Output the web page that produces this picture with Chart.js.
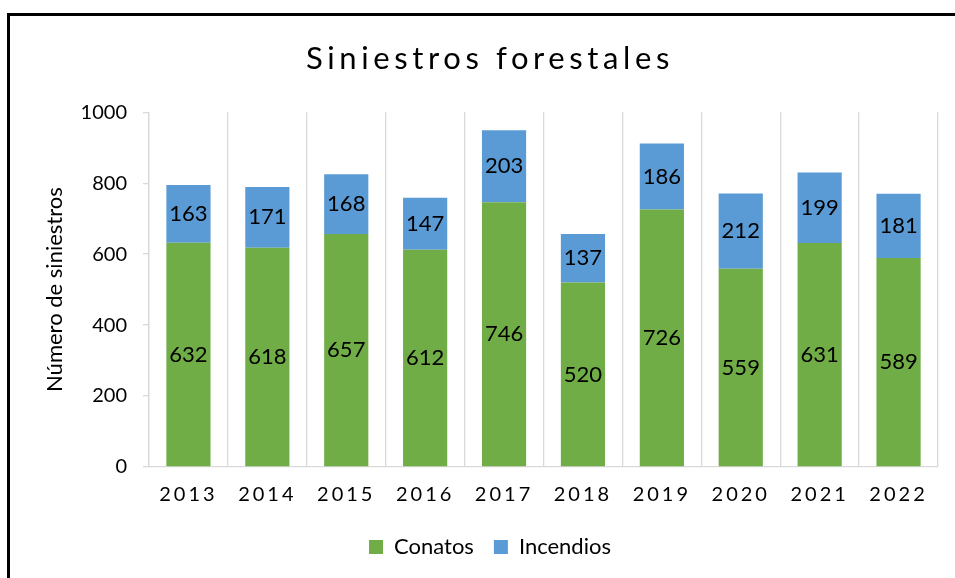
<!DOCTYPE html>
<html>
<head>
<meta charset="utf-8">
<script src="https://cdn.jsdelivr.net/npm/chart.js@4"></script>
<style>
  body { margin: 0; background: #fff; }
  #wrap { position: relative; width: 955px; height: 578px; overflow: hidden; }
  #frame { position: absolute; left: 7px; top: 13px; width: 1000px; height: 1000px;
           border-left: 3px solid #000; border-top: 3px solid #000; pointer-events: none; }
</style>
</head>
<body>
<div id="wrap">
  <canvas id="bar-chart" width="955" height="578"></canvas>
  <div id="frame"></div>
</div>
<script>
var years = ["2013", "2014", "2015", "2016", "2017", "2018", "2019", "2020", "2021", "2022"];
var conatos = [632, 618, 657, 612, 746, 520, 726, 559, 631, 589];
var incendios = [163, 171, 168, 147, 203, 137, 186, 212, 199, 181];
var yTicks = [0, 200, 400, 600, 800, 1000];

Chart.defaults.font.family = "Lato, 'Open Sans', sans-serif";
Chart.defaults.color = "#000";

// spaced-out letters for title and year labels
var spacing = {
    id: 'spacing',
    beforeDraw: function (chart) {
        var x = chart.scales.x;
        if (x && !x._spaced) {
            var orig = x.drawLabels;
            x.drawLabels = function (area) {
                var c = this.ctx; c.save(); c.letterSpacing = '3px';
                orig.call(this, area); c.restore();
            };
            x._spaced = true;
        }
        var t = chart.titleBlock;
        if (t && !t._spaced) {
            var origT = t.draw;
            t.draw = function () {
                var c = this.ctx; c.save(); c.letterSpacing = '4.6px';
                origT.call(this); c.restore();
            };
            t._spaced = true;
        }
    }
};

// value labels centred in each segment
var valueLabels = {
    id: 'valueLabels',
    afterDatasetsDraw: function (chart) {
        var ctx = chart.ctx;
        ctx.save();
        ctx.font = "22px Lato, sans-serif";
        ctx.fillStyle = "#000";
        ctx.textAlign = "center";
        ctx.textBaseline = "middle";
        chart.data.datasets.forEach(function (ds, i) {
            chart.getDatasetMeta(i).data.forEach(function (bar, j) {
                ctx.fillText(ds.data[j], bar.x, (bar.y + bar.base) / 2);
            });
        });
        ctx.restore();
    }
};

new Chart(document.getElementById("bar-chart"), {
    type: 'bar',
    data: {
        labels: years,
        datasets: [
            { label: "Conatos", data: conatos, backgroundColor: "#70AD47",
              barPercentage: 0.56, categoryPercentage: 1 },
            { label: "Incendios", data: incendios, backgroundColor: "#5B9BD5",
              barPercentage: 0.56, categoryPercentage: 1 }
        ]
    },
    options: {
        responsive: false,
        animation: false,
        layout: { padding: { left: 42, right: 17, top: 0, bottom: 10 } },
        plugins: {
            title: {
                display: true,
                text: 'Siniestros forestales',
                font: { size: 31, weight: 'normal' },
                padding: { top: 40, bottom: 35 }
            },
            legend: {
                position: 'bottom',
                labels: { boxWidth: 14, boxHeight: 14, font: { size: 22 }, padding: 20 }
            },
            tooltip: { enabled: false }
        },
        scales: {
            x: {
                stacked: true,
                grid: { offset: true, color: "#d9d9d9", lineWidth: 1.3, drawTicks: false },
                border: { color: "#d9d9d9", width: 1.3 },
                ticks: { font: { size: 20 }, padding: 16 },
                afterFit: function (scale) { scale.height = 49; }
            },
            y: {
                stacked: true,
                min: 0,
                max: 1000,
                afterBuildTicks: function (axis) {
                    axis.ticks = yTicks.map(function (v) { return { value: v }; });
                },
                grid: { drawOnChartArea: false, drawTicks: true, tickLength: 6, color: "#d9d9d9", lineWidth: 1.3 },
                border: { color: "#d9d9d9", width: 1.3 },
                ticks: { font: { size: 20 }, padding: 16, callback: function (v) { return String(v); } },
                title: { display: true, text: 'Número de siniestros', font: { size: 22 },
                         padding: { top: 0, bottom: 0 } },
                afterFit: function (scale) { scale.width = 107; }
            }
        }
    },
    plugins: [spacing, valueLabels]
});
</script>
</body>
</html>
